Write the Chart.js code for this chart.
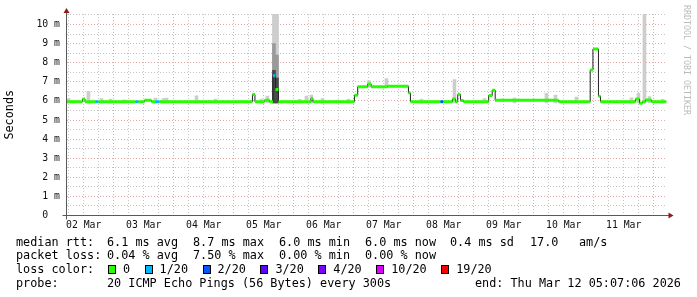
<!DOCTYPE html>
<html>
<head>
<meta charset="utf-8">
<script src="https://cdn.jsdelivr.net/npm/chart.js@4/dist/chart.umd.min.js"></script>
<style>
  html, body { margin: 0; padding: 0; background: #fff; }
  #wrap { position: relative; width: 697px; height: 297px; font-family: "DejaVu Sans Mono", monospace; }
  #wrap canvas { position: absolute; left: 0; top: 0; }
  .t { position: absolute; font-size: 11.8px; line-height: 14px; white-space: pre; color: #000; }
  .sw { position: absolute; box-sizing: border-box; width: 8px; height: 9px; border: 1px solid #000; }
  #brand { position: absolute; left: 682px; top: 5px; writing-mode: vertical-rl; font-size: 8.3px; line-height: 10px; color: #bbb; }
</style>
</head>
<body>
<div id="wrap">
  <canvas id="chart" width="697" height="297"></canvas>
  <div id="legend">
    <div class="t" style="left:16px;top:234.5px">median rtt:</div>
    <div class="t" style="left:107px;top:234.5px">6.1 ms avg</div>
    <div class="t" style="left:193px;top:234.5px">8.7 ms max</div>
    <div class="t" style="left:279px;top:234.5px">6.0 ms min</div>
    <div class="t" style="left:365px;top:234.5px">6.0 ms now</div>
    <div class="t" style="left:450px;top:234.5px">0.4 ms sd</div>
    <div class="t" style="left:530px;top:234.5px">17.0</div>
    <div class="t" style="left:579px;top:234.5px">am/s</div>

    <div class="t" style="left:16px;top:248px">packet loss:</div>
    <div class="t" style="left:107px;top:248px">0.04 % avg</div>
    <div class="t" style="left:193px;top:248px">7.50 % max</div>
    <div class="t" style="left:279px;top:248px">0.00 % min</div>
    <div class="t" style="left:365px;top:248px">0.00 % now</div>

    <div class="t" style="left:16px;top:262px">loss color:</div>

    <div class="t" style="left:16px;top:275.5px">probe:</div>
    <div class="t" style="left:107px;top:275.5px">20 ICMP Echo Pings (56 Bytes) every 300s</div>
    <div class="t" style="left:475px;top:275.5px">end: Thu Mar 12 05:07:06 2026</div>
  </div>
  <div id="brand">RRDTOOL / TOBI OETIKER</div>
</div>
<script>
// x values are hours after 02 Mar 00:00
const dayLabels = ["02 Mar", "03 Mar", "04 Mar", "05 Mar", "06 Mar", "07 Mar", "08 Mar", "09 Mar", "10 Mar", "11 Mar"];
const rangeStart = 5.12;
const rangeEnd = 245.12;

// median rtt, one entry per step (value holds until the next step)
const stepHours = [5.1, 11.5, 12.5, 16.7, 17.9, 32.7, 33.9, 36.3, 39.1, 40.9, 42.1, 79.5, 80.5, 84.3, 86.3, 87.7,
  88.7, 89.9, 102.9, 103.7, 120.3, 121.6, 125.6, 127.0, 133.5, 141.9, 142.7, 154.7, 155.9, 159.5, 160.7, 161.6,
  162.7, 163.9, 174.0, 175.4, 176.6, 201.9, 214.6, 215.7, 217.9, 218.7, 232.7, 234.3, 235.5, 236.7, 239.1];
const medianMs = [5.96, 6.10, 5.96, 5.96, 5.96, 5.96, 5.96, 6.03, 5.96, 5.96, 5.96, 6.33, 5.96, 6.03, 5.96, 7.32,
  6.60, 5.96, 6.12, 5.96, 6.30, 6.74, 6.88, 6.74, 6.77, 6.42, 5.96, 5.96, 5.96, 6.10, 5.96, 6.33,
  6.02, 5.96, 6.28, 6.56, 6.03, 5.96, 7.62, 8.72, 6.25, 5.96, 6.10, 5.88, 5.96, 6.05, 5.96];
const lossLevel = [0, 0, 0, 1, 0, 1, 0, 0, 0, 1, 0, 0, 0, 0, 0, 1,
  0, 0, 0, 0, 0, 0, 0, 0, 0, 0, 0, 2, 0, 0, 0, 0,
  0, 0, 0, 0, 0, 0, 0, 0, 0, 0, 0, 0, 0, 0, 0];

// smoke (spread of the 20 pings)
const smokeHours = [5.9, 13.9, 19.1, 22.7, 28.3, 40.7, 43.9, 45.1, 57.1, 64.7, 83.1, 85.5, 88.1, 89.3, 98.3, 101.1,
  103.1, 107.5, 113.5, 117.9, 126.1, 133.1, 147.1, 160.3, 172.3, 184.3, 197.1, 200.7, 209.1, 231.1, 233.9, 236.3,
  238.3, 243.5];
const smokeLowMs = [5.9, 5.9, 5.9, 5.9, 5.9, 5.9, 5.9, 5.9, 5.9, 5.9, 5.9, 5.9, 5.9, 5.9, 5.9, 5.9,
  5.9, 5.9, 5.9, 5.9, 6.7, 6.7, 5.9, 5.9, 5.9, 5.9, 5.9, 5.9, 5.9, 5.9, 5.9, 5.9,
  5.9, 5.9];
const smokeHighMs = [6.12, 6.5, 6.12, 6.1, 6.06, 6.15, 6.12, 6.15, 6.27, 6.1, 6.1, 6.25, 10.6, 10.6, 6.08, 6.25,
  6.3, 6.12, 6.04, 6.1, 7.05, 7.17, 6.1, 7.12, 6.12, 6.15, 6.4, 6.3, 6.2, 6.16, 6.4, 10.6,
  6.22, 6.08];
// denser smoke inside the 05 Mar spike
const spikeHours = [88.1, 89.3];
const spikeMidMs = [9.0, 8.4];
const spikeDarkMs = [7.6, 7.2];

const lossLabels = ["0", "1/20", "2/20", "3/20", "4/20", "10/20", "19/20"];
const lossColors = ["#26ff00", "#00b8ff", "#0059ff", "#5e00ff", "#7e00ff", "#dd00ff", "#ff0000"];

// loss colour legend
let lx = 108;
lossLabels.forEach((lab, i) => {
  const sw = document.createElement("div");
  sw.className = "sw";
  sw.style.left = lx + "px";
  sw.style.top = "265px";
  sw.style.background = lossColors[i];
  document.getElementById("legend").appendChild(sw);
  const t = document.createElement("div");
  t.className = "t";
  t.style.left = (lx + 15) + "px";
  t.style.top = "262px";
  t.textContent = lab;
  document.getElementById("legend").appendChild(t);
  lx += 15 + lab.length * 7.1 + 14.5;
});

const thinPts = stepHours.map((h, i) => ({ x: h, y: medianMs[i] }));
thinPts.push({ x: rangeEnd, y: medianMs[medianMs.length - 1] });

const thickPts = [];
const thickLoss = [];
stepHours.forEach((h, i) => {
  const h1 = i + 1 < stepHours.length ? stepHours[i + 1] : rangeEnd;
  thickPts.push({ x: h, y: medianMs[i] }, { x: h1, y: medianMs[i] }, { x: h1, y: null });
  thickLoss.push(lossLevel[i], lossLevel[i], lossLevel[i]);
});

const smokeBars = (hours, lo, hi) => hours.map((h, i) => ({ x: h, y: [Array.isArray(lo) ? lo[i] : lo, hi[i]] }));

const majorGrid = "rgba(215, 110, 110, 0.6)";
const minorGrid = "#c4c4c4";
const mono = "'DejaVu Sans Mono', monospace";

const axisArrows = {
  id: "axisArrows",
  afterDraw(chart) {
    const { ctx, chartArea: a } = chart;
    ctx.save();
    ctx.strokeStyle = "#5a5a5a";
    ctx.lineWidth = 1;
    ctx.beginPath();
    ctx.moveTo(a.left, a.bottom + 4);
    ctx.lineTo(a.left, a.top - 3);
    ctx.moveTo(a.left - 4, a.bottom);
    ctx.lineTo(a.right + 3, a.bottom);
    ctx.stroke();
    ctx.fillStyle = "#8c1c1c";
    ctx.beginPath();
    ctx.moveTo(a.left, a.top - 6);
    ctx.lineTo(a.left - 3, a.top - 1);
    ctx.lineTo(a.left + 3, a.top - 1);
    ctx.closePath();
    ctx.fill();
    ctx.beginPath();
    ctx.moveTo(a.right + 7, a.bottom);
    ctx.lineTo(a.right + 2, a.bottom - 3);
    ctx.lineTo(a.right + 2, a.bottom + 3);
    ctx.closePath();
    ctx.fill();
    ctx.restore();
  }
};

Chart.defaults.font.family = mono;

new Chart(document.getElementById("chart"), {
  type: "line",
  data: {
    datasets: [
      {
        data: thickPts,
        borderColor: lossColors[0],
        borderWidth: 3,
        borderCapStyle: "butt",
        spanGaps: false,
        pointRadius: 0,
        order: 0,
        segment: { borderColor: ctx => lossColors[thickLoss[ctx.p0DataIndex]] }
      },
      {
        data: thinPts,
        stepped: "before",
        borderColor: "#202020",
        borderWidth: 1,
        pointRadius: 0,
        order: 1
      },
      {
        type: "bar",
        data: smokeBars(spikeHours, 5.9, spikeDarkMs),
        backgroundColor: "#4a4a4a",
        barThickness: 3,
        grouped: false,
        order: 2
      },
      {
        type: "bar",
        data: smokeBars(spikeHours, 5.9, spikeMidMs),
        backgroundColor: "#9a9a9a",
        barThickness: 3,
        grouped: false,
        order: 3
      },
      {
        type: "bar",
        data: smokeBars(smokeHours, smokeLowMs, smokeHighMs),
        backgroundColor: "#cdcdcd",
        barThickness: 3,
        grouped: false,
        order: 4
      }
    ]
  },
  options: {
    responsive: false,
    animation: false,
    events: [],
    layout: { padding: { top: 14, right: 30.5, bottom: 0, left: 0 } },
    plugins: { legend: { display: false }, tooltip: { enabled: false } },
    scales: {
      x: {
        type: "linear",
        min: rangeStart,
        max: rangeEnd,
        offset: false,
        afterBuildTicks: scale => {
          const t = [];
          for (let h = 6; h <= 240; h += 6) t.push({ value: h });
          scale.ticks = t;
        },
        afterFit: scale => { scale.height = 81.5; },
        grid: {
          offset: false,
          drawTicks: false,
          lineWidth: 1,
          color: ctx => (ctx.tick && ctx.tick.value % 24 === 0 ? majorGrid : minorGrid)
        },
        border: { display: false, dash: [1, 2] },
        ticks: {
          autoSkip: false,
          maxRotation: 0,
          padding: 4,
          color: "#111",
          font: { family: mono, size: 9.8 },
          callback: v => (v % 24 === 12 ? dayLabels[(v - 12) / 24] : "")
        }
      },
      y: {
        min: 0,
        max: 10.55,
        afterBuildTicks: scale => {
          const t = [];
          for (let i = 0; i <= 21; i++) t.push({ value: i / 2 });
          scale.ticks = t;
        },
        afterFit: scale => { scale.width = 66.5; },
        grid: {
          drawTicks: false,
          lineWidth: 1,
          color: ctx => (ctx.tick && Number.isInteger(ctx.tick.value) ? majorGrid : minorGrid)
        },
        border: { display: false, dash: [1, 2] },
        ticks: {
          autoSkip: false,
          padding: 6.5,
          color: "#111",
          font: { family: mono, size: 9.8 },
          callback: v => (Number.isInteger(v) ? (v === 0 ? "0  " : v + " m") : "")
        },
        title: {
          display: true,
          text: "Seconds",
          color: "#000",
          font: { family: mono, size: 11.8 },
          padding: { top: 3, bottom: 0 }
        }
      }
    }
  },
  plugins: [axisArrows]
});
</script>
</body>
</html>
